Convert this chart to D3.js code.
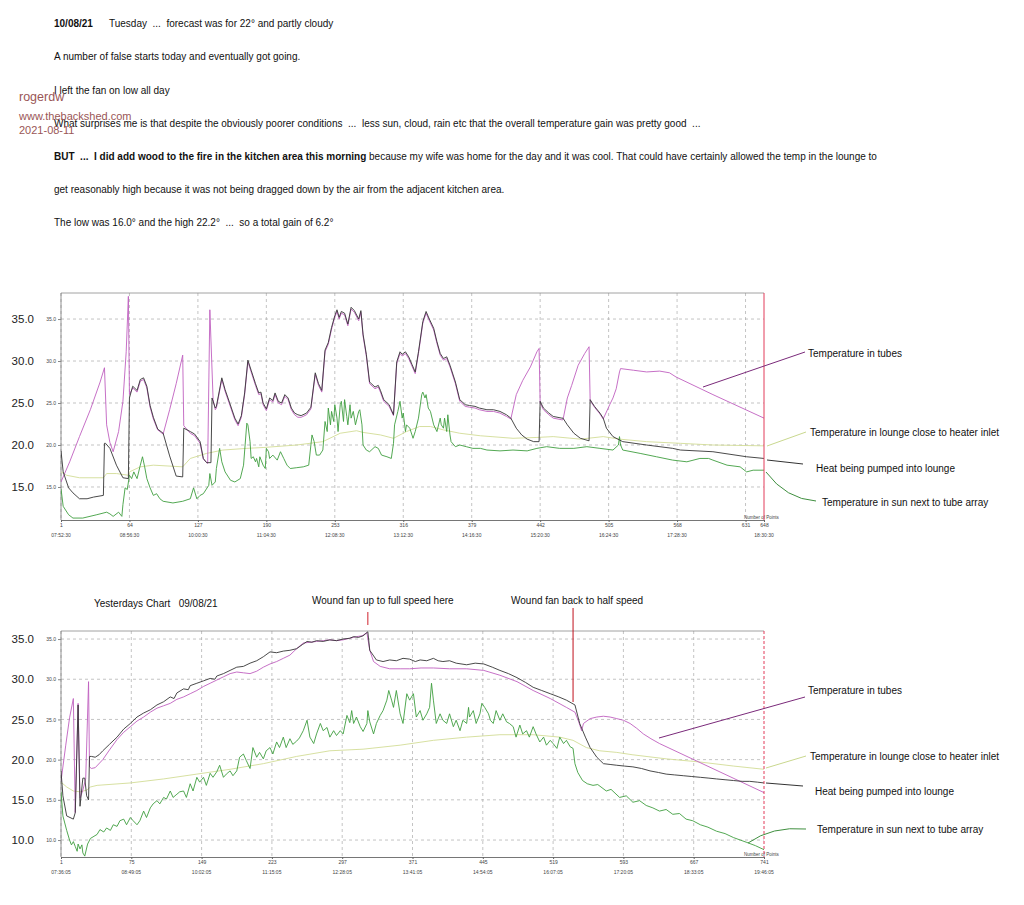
<!DOCTYPE html>
<html><head><meta charset="utf-8">
<script src="https://cdn.jsdelivr.net/npm/d3@7"></script>
<style>
body{margin:0;background:#fff;}
svg{display:block;font-family:"Liberation Sans",Arial,Helvetica,sans-serif;}
text{white-space:pre;}
</style>
</head><body>
<svg id="c" width="1024" height="905"></svg>
<script>
// ---------- TEXT ----------
const notesBold = ["10/08/21", "", "", "", "BUT  ...  I did add wood to the fire in the kitchen area this morning", "", ""];
const notesText = [
  "Tuesday  ...  forecast was for 22° and partly cloudy",
  "A number of false starts today and eventually got going.",
  "I left the fan on low all day",
  "What surprises me is that despite the obviously poorer conditions  ...  less sun, cloud, rain etc that the overall temperature gain was pretty good  ...",
  " because my wife was home for the day and it was cool. That could have certainly allowed the temp in the lounge to",
  "get reasonably high because it was not being dragged down by the air from the adjacent kitchen area.",
  "The low was 16.0° and the high 22.2°  ...  so a total gain of 6.2°"
];
const watermark = ["rogerdw", "www.thebackshed.com", "2021-08-11"];
const legendLabels = ["Temperature in tubes", "Temperature in lounge close to heater inlet", "Heat being pumped into lounge", "Temperature in sun next to tube array"];
const yesterdayTitle = "Yesterdays Chart   09/08/21";
const fanNotes = ["Wound fan up to full speed here", "Wound fan back to half speed"];
const fanNoteIdx = [324, 540];

// ---------- TOP CHART (10/08/21) ----------
const topXTicks = [1, 64, 127, 190, 253, 316, 379, 442, 505, 568, 631, 648];
const topXTimes = ["07:52:30", "08:56:30", "10:00:30", "11:04:30", "12:08:30", "13:12:30", "14:16:30", "15:20:30", "16:24:30", "17:28:30", "", "18:30:30"];
const topYTicks = [15, 20, 25, 30, 35];

const topTubes = [[1,15.6],[9,18.0],[18,21.0],[28,24.2],[37,27.5],[41,29.2],[43,22.4],[46,20.3],[49,19.2],[54,21.6],[58,25.2],[61,31.1],[63,37.7],[64,26.0],[67,26.8],[71,26.3],[74,27.6],[77,27.8],[80,26.8],[83,24.5],[86,23.1],[90,21.8],[95,21.3],
[101,24.2],[107,27.3],[113,30.7],[114,22.3],[120,21.4],[124,21.1],[129,20.2],[132,18.3],[136,17.8],[138,36.1],[141,25.4],[143,24.2],[144,24.4],[149,27.8],[152,26.4],[156,24.9],[161,23.0],[164,22.3],[167,23.3],[170,26.0],[173,29.9],[176,28.7],[180,27.1],[183,26.0],[185,26.1],[187,24.8],[190,24.1],[193,25.4],[196,25.1],[198,26.0],[201,25.0],[204,24.8],[207,25.8],[210,25.4],[213,24.2],[216,23.6],[219,23.3],[222,23.3],[227,23.6],[231,24.3],[235,28.4],[238,27.1],[241,26.3],[244,31.1],[247,32.0],[250,33.8],[253,35.2],[255,35.9],[257,35.0],[259,35.7],[262,35.5],[265,34.2],[268,36.2],[271,35.8],[275,34.8],[277,35.8],[279,33.0],[282,30.6],[285,27.3],[290,26.7],[293,26.9],[295,26.3],[298,25.2],[303,24.6],[307,23.5],[310,29.7],[313,30.9],[315,30.6],[318,30.9],[321,30.3],[324,29.4],[327,28.5],[330,30.9],[334,34.5],[337,35.7],[340,34.8],[344,33.7],[347,32.1],[350,30.7],[353,30.1],[356,30.3],[359,29.3],[364,27.3],[368,25.2],[373,24.6],[377,24.5],[382,24.4],[386,24.2],[393,24.0],[399,24.0],[405,23.8],[411,23.4],[415,23.1],
[420,26.0],[426,27.7],[433,29.3],[439,31.1],[441,31.5],[442,25.0],[445,24.2],[450,23.6],[454,23.2],[462,23.0],[463,23.0],
[467,25.6],[471,27.1],[477,29.5],[483,30.9],[487,31.7],[488,25.3],[492,24.5],[497,23.7],[500,23.1],
[506,24.8],[509,25.6],[512,26.7],[515,28.7],[516,29.1],[528,28.9],[540,28.7],[552,28.8],[561,28.6],[567,28.1],[601,26.0],[648,23.2]];

const topHeat = [[1,19.3],[3,16.8],[8,14.9],[12,14.3],[18,13.6],[25,13.6],[31,13.8],[40,14.0],[41,20.2],[42,20.2],[46,19.6],[52,17.6],[58,16.1],[63,16.0],[64,25.6],[67,27.0],[71,26.5],[74,27.8],[77,28.0],[80,27.0],[83,24.7],[86,23.3],[90,21.9],[95,21.4],[101,18.7],[107,16.3],[113,16.2],[114,22.0],[120,21.6],[124,21.3],[129,20.4],[132,18.4],[135,17.9],[139,17.9],[140,25.6],[143,24.4],[144,24.6],[149,28.0],[152,26.6],[156,25.1],[161,23.2],[164,22.5],[167,23.5],[170,26.2],[173,30.1],[176,28.9],[180,27.3],[183,26.2],[185,26.3],[187,25.0],[190,24.3],[193,25.6],[196,25.3],[198,26.2],[201,25.2],[204,25.0],[207,26.0],[210,25.6],[213,24.4],[216,23.8],[219,23.6],[222,23.5],[227,23.8],[231,24.5],[235,28.6],[238,27.3],[241,26.5],[244,31.3],[247,32.2],[250,34.0],[253,35.4],[255,36.1],[257,35.2],[259,35.9],[262,35.7],[265,34.4],[268,36.4],[271,36.0],[275,35.0],[277,36.0],[279,33.2],[282,30.8],[285,27.5],[290,26.9],[293,27.1],[295,26.5],[298,25.4],[303,24.8],[307,23.6],[310,29.9],[313,31.1],[315,30.8],[318,31.1],[321,30.5],[324,29.6],[327,28.7],[330,31.1],[334,34.7],[337,35.9],[340,35.0],[344,33.9],[347,32.3],[350,30.9],[353,30.3],[356,30.5],[359,29.5],[364,27.5],[368,25.4],[373,24.8],[377,24.7],[382,24.6],[386,24.4],[393,24.2],[399,24.2],[405,24.0],[411,23.6],[415,23.2],[420,22.0],[425,21.2],[430,20.7],[436,20.4],[441,20.4],[442,25.2],[445,24.4],[450,23.8],[454,23.4],[462,23.2],[463,23.2],[467,22.4],[473,21.4],[479,20.8],[487,20.5],[488,25.4],[492,24.6],[497,23.8],[500,23.2],[503,22.0],[509,21.0],[518,20.4],[540,20.0],[564,19.6],[571,19.4],[601,19.2],[632,18.6],[648,18.4]];

const topLounge = [[1,16.8],[6,16.4],[18,16.1],[40,16.1],[43,16.6],[52,16.6],[63,16.4],[64,16.8],[74,17.4],[86,17.6],[113,17.4],[120,18.4],[135,19.0],[150,19.4],[172,19.6],[187,19.7],[218,20.0],[242,20.4],[258,21.4],[273,21.7],[279,21.5],[295,21.2],[307,20.8],[319,21.6],[331,22.2],[341,22.2],[353,21.8],[368,21.4],[387,21.1],[417,20.8],[439,20.9],[454,21.0],[479,20.7],[500,21.0],[515,20.7],[540,20.4],[571,20.2],[601,20.0],[648,19.9]];

const topSun = [[1,14.8],[3,12.7],[8,11.7],[12,11.3],[21,11.3],[34,11.7],[43,12.0],[46,11.8],[49,11.5],[54,12.0],[57,11.5],[58,12.9],[60,14.9],[62,14.7],[64,16.4],[66,16.0],[68,16.8],[71,16.0],[74,17.6],[76,18.6],[78,17.4],[80,16.0],[83,14.9],[86,14.0],[89,14.2],[92,13.6],[95,13.3],[104,13.1],[113,13.3],[120,13.6],[123,14.9],[126,13.6],[129,14.0],[132,14.2],[137,15.2],[138,16.6],[140,15.2],[143,15.6],[144,17.2],[147,19.6],[149,18.0],[152,16.8],[157,15.8],[161,15.6],[166,16.0],[169,17.6],[172,22.6],[173,22.4],[175,20.4],[176,18.4],[178,18.6],[180,18.0],[181,18.4],[183,17.4],[184,18.6],[187,17.6],[189,17.2],[190,19.6],[192,19.2],[193,18.4],[196,18.8],[200,18.2],[203,19.2],[206,18.4],[209,17.6],[212,17.2],[218,17.3],[224,17.4],[229,17.6],[232,21.2],[234,20.4],[236,18.8],[239,18.8],[242,19.4],[244,22.8],[246,21.6],[247,24.4],[249,22.4],[250,24.0],[252,22.8],[253,24.8],[255,23.2],[256,21.6],[258,24.8],[259,25.2],[261,22.8],[262,25.4],[264,23.4],[265,22.4],[267,24.8],[268,23.2],[270,24.0],[272,22.4],[275,24.0],[276,24.2],[278,22.4],[279,20.0],[282,19.4],[285,19.2],[290,19.8],[293,19.6],[296,18.8],[301,18.6],[305,18.4],[307,20.2],[308,22.4],[311,24.0],[313,25.2],[315,23.2],[316,23.8],[318,21.6],[319,22.4],[322,22.0],[325,20.8],[327,21.6],[330,23.2],[333,26.0],[334,26.3],[336,25.6],[337,26.0],[339,24.4],[341,24.0],[344,22.4],[347,21.6],[350,23.2],[351,22.4],[353,22.0],[354,23.2],[356,21.6],[357,23.6],[359,21.2],[360,20.4],[364,19.8],[368,20.0],[374,19.8],[380,19.6],[387,19.6],[393,19.4],[405,19.3],[417,19.4],[430,19.3],[439,19.6],[448,19.8],[460,19.6],[473,19.6],[485,19.8],[497,19.6],[509,19.4],[514,20.0],[515,21.0],[516,20.0],[518,19.4],[534,19.0],[549,18.6],[564,18.2],[577,18.0],[589,18.4],[597,18.4],[601,18.2],[614,17.6],[626,17.4],[632,16.8],[638,17.0],[648,17.0]];

// ---------- BOTTOM CHART (09/08/21) ----------
const botXTicks = [1, 75, 149, 223, 297, 371, 445, 519, 593, 667, 741];
const botXTimes = ["07:36:05", "08:49:05", "10:02:05", "11:15:05", "12:28:05", "13:41:05", "14:54:05", "16:07:05", "17:20:05", "18:33:05", "19:46:05"];
const botYTicks = [10, 15, 20, 25, 30, 35];

const botTubes = [[1,17.3],[6,21.8],[10,25.2],[14,27.6],[16,13.4],[19,27.0],[21,15.2],[24,16.2],[27,17.6],[30,29.7],[31,19.1],[33,18.9],[37,19.0],[45,20.0],[52,21.2],[60,22.5],[67,23.4],[74,24.1],[81,24.8],[88,25.3],[95,25.9],[102,26.4],[109,26.7],[116,27.0],[123,27.5],[130,27.8],[137,28.2],[144,28.6],[151,29.1],[158,29.5],[165,29.9],[172,30.3],[179,30.7],[186,30.9],[193,30.8],[200,30.7],[207,31.0],[214,31.5],[221,31.9],[228,32.2],[235,32.6],[242,33.0],[249,33.8],[256,34.5],[263,34.6],[270,34.7],[277,34.8],[284,34.9],[291,34.8],[298,34.9],[305,35.1],[312,35.3],[318,35.4],[323,35.8],[326,33.6],[330,32.2],[337,31.6],[347,31.3],[358,31.3],[368,31.3],[380,31.4],[393,31.4],[410,31.3],[428,31.3],[446,31.1],[463,30.5],[481,29.7],[498,28.6],[516,27.6],[533,26.5],[542,25.9],[546,24.7],[549,23.6],[551,24.5],[558,25.1],[565,25.3],[572,25.4],[579,25.3],[586,25.1],[593,24.9],[600,24.5],[607,23.9],[614,23.2],[622,22.6],[631,22.0],[741,15.9]];

const botHeat = [[1,18.6],[3,15.5],[7,13.0],[14,12.6],[16,13.4],[19,26.8],[21,14.2],[24,17.7],[26,17.7],[28,15.5],[30,15.0],[31,20.4],[33,20.4],[37,20.3],[41,20.6],[45,21.1],[52,21.9],[60,22.8],[67,23.8],[74,24.5],[81,25.3],[88,25.8],[95,26.2],[102,26.8],[109,27.2],[116,27.8],[120,27.6],[123,28.3],[130,28.8],[135,28.7],[137,29.2],[144,29.5],[151,29.8],[158,30.1],[163,30.0],[165,30.4],[172,30.7],[179,31.1],[186,31.5],[193,31.6],[200,32.0],[207,32.3],[214,32.8],[221,33.4],[228,33.3],[235,33.5],[242,33.6],[249,33.8],[255,34.3],[260,34.7],[265,34.6],[270,34.8],[277,34.7],[284,34.9],[291,34.8],[298,35.0],[305,35.1],[309,35.3],[314,35.2],[319,35.4],[324,35.9],[326,33.6],[333,32.4],[340,32.2],[347,32.4],[354,32.3],[361,32.6],[368,32.5],[374,32.2],[379,32.4],[386,32.3],[393,32.6],[398,32.3],[403,32.2],[410,32.3],[417,32.0],[428,31.8],[437,32.0],[446,31.9],[455,31.5],[463,31.1],[472,30.7],[481,30.2],[490,29.6],[498,29.0],[507,28.6],[516,28.2],[525,27.8],[533,27.4],[542,26.8],[547,24.5],[553,22.8],[558,21.5],[565,20.3],[572,19.5],[579,19.4],[586,19.3],[594,19.2],[603,19.1],[612,18.9],[621,18.6],[630,18.4],[638,18.2],[647,18.1],[656,18.0],[665,17.9],[674,17.8],[683,17.7],[691,17.6],[700,17.5],[709,17.4],[718,17.3],[726,17.3],[734,17.2],[741,17.1]];

const botLounge = [[1,17.2],[7,16.6],[14,16.1],[21,16.0],[28,16.2],[32,16.6],[39,16.8],[74,17.1],[109,17.6],[144,18.2],[179,18.8],[214,19.5],[249,20.4],[284,21.1],[319,21.3],[358,21.8],[393,22.4],[428,22.8],[463,23.1],[498,23.1],[526,22.8],[540,22.4],[554,21.5],[568,21.1],[586,20.9],[603,20.6],[638,20.1],[674,19.7],[709,19.2],[741,18.8]];

const botSun = [[1,16.0],[3,13.0],[7,11.2],[10,10.0],[12,9.4],[14,9.8],[16,9.2],[18,8.6],[19,9.5],[21,8.9],[23,9.4],[24,8.4],[26,8.0],[29,9.5],[32,10.2],[39,10.7],[42,11.3],[46,11.0],[49,11.5],[53,11.2],[56,11.9],[60,11.7],[63,12.4],[67,12.6],[70,11.9],[74,12.8],[77,12.4],[81,11.9],[84,12.4],[88,13.6],[91,12.8],[95,14.0],[98,14.5],[102,14.9],[105,14.5],[109,15.3],[112,15.1],[116,16.1],[119,15.3],[123,15.7],[126,16.0],[130,16.1],[133,15.3],[137,17.0],[140,16.1],[144,17.8],[147,17.2],[151,17.8],[154,16.8],[158,18.3],[161,17.8],[165,18.5],[168,19.3],[172,17.8],[175,18.2],[179,18.6],[182,18.0],[186,18.6],[189,20.3],[193,20.7],[196,19.9],[200,18.9],[203,21.5],[207,20.3],[210,20.9],[214,20.1],[217,21.1],[221,21.5],[224,20.7],[228,22.2],[231,21.5],[235,22.8],[238,21.5],[242,22.6],[245,21.9],[249,22.3],[252,22.7],[256,23.6],[260,24.9],[263,22.8],[267,22.0],[270,23.2],[274,24.5],[277,23.6],[281,24.0],[284,22.8],[288,23.6],[291,23.0],[295,23.6],[298,23.2],[302,25.5],[305,24.6],[307,26.1],[309,24.5],[312,25.3],[316,24.1],[319,23.5],[323,24.5],[324,26.1],[326,24.7],[330,23.2],[333,24.5],[337,25.5],[340,26.1],[344,27.4],[346,28.6],[349,27.4],[351,26.5],[354,28.6],[358,25.7],[361,24.5],[365,28.2],[368,27.4],[372,28.2],[375,25.3],[379,26.1],[382,24.9],[386,25.7],[389,26.5],[391,29.5],[393,27.4],[396,24.5],[400,25.7],[403,24.9],[407,24.5],[410,25.7],[414,24.1],[417,24.9],[421,23.6],[424,24.9],[428,24.5],[430,26.5],[431,25.3],[435,26.1],[438,24.5],[442,25.7],[444,27.0],[447,26.5],[451,25.7],[453,24.9],[456,24.5],[459,26.1],[463,24.9],[466,25.7],[470,24.7],[473,24.5],[477,24.1],[480,22.8],[484,24.3],[487,23.2],[491,23.6],[494,22.8],[498,24.1],[501,23.2],[505,22.2],[509,22.8],[512,21.8],[516,22.4],[519,22.0],[523,21.4],[526,22.8],[530,22.0],[533,22.4],[537,21.6],[540,21.4],[542,19.5],[545,18.4],[550,17.4],[555,17.0],[561,16.8],[566,16.9],[575,16.1],[580,16.3],[589,15.3],[596,15.5],[603,14.7],[610,14.9],[617,14.3],[624,14.0],[631,13.6],[638,13.8],[645,13.2],[652,13.3],[659,12.6],[666,12.4],[674,11.9],[682,11.6],[691,11.1],[700,10.8],[709,10.3],[716,10.0],[723,9.7],[732,9.3],[741,8.8]];

// ---------- STYLE ----------
const COL = {tubes:"#c060c0", heat:"#353535", lounge:"#d2dc96", sun:"#3f9e3f", grid:"#ababab", frame:"#8a8a8a", red:"#e23c5a"};
const FONT = '"Liberation Sans",Arial,Helvetica,sans-serif';

const svg = d3.select("#c");

// ---------- NOTES ----------
const lineY = [27, 60, 93.5, 127, 160, 193, 226];
notesText.forEach((t, i) => {
  const tx = svg.append("text").attr("x", 54).attr("y", lineY[i]).attr("font-size", 10).attr("fill", "#111");
  if (i === 0) {
    tx.append("tspan").attr("font-weight", "bold").text(notesBold[0]);
    svg.append("text").attr("x", 109).attr("y", lineY[i]).attr("font-size", 10).attr("fill", "#111").text(t);
  } else if (notesBold[i]) {
    tx.append("tspan").attr("font-weight", "bold").text(notesBold[i]);
    tx.append("tspan").text(t);
  } else {
    tx.text(t);
  }
});

// watermark
svg.append("text").attr("x", 19).attr("y", 101).attr("font-size", 12.5).attr("fill", "#9a5656").text(watermark[0]);
svg.append("text").attr("x", 19).attr("y", 120).attr("font-size", 11).attr("fill", "#9a5656").text(watermark[1]);
svg.append("text").attr("x", 19).attr("y", 134).attr("font-size", 11).attr("fill", "#9a5656").text(watermark[2]);

// ---------- CHART ----------
function drawChart(c) {
  const L = 61, R = 764;
  const x = d3.scaleLinear().domain([1, c.n]).range([L, R]);
  const y = d3.scaleLinear().domain(c.yDomain).range([c.bottom, c.top]);
  const g = svg.append("g");
  const cid = "clip" + c.id;
  svg.append("defs").append("clipPath").attr("id", cid)
    .append("rect").attr("x", L).attr("y", c.top).attr("width", R - L).attr("height", c.bottom - c.top);

  // grid
  g.selectAll(null).data(c.yTicks).join("line")
    .attr("x1", L).attr("x2", R).attr("y1", d => y(d)).attr("y2", d => y(d))
    .attr("stroke", COL.grid).attr("stroke-width", 0.7).attr("stroke-dasharray", "3,3");
  g.selectAll(null).data(c.xTicks.slice(0, -1)).join("line")
    .attr("x1", d => x(d)).attr("x2", d => x(d)).attr("y1", c.top).attr("y2", c.bottom)
    .attr("stroke", COL.grid).attr("stroke-width", 0.7).attr("stroke-dasharray", "3,3");

  // frame
  g.append("line").attr("x1", L).attr("x2", R).attr("y1", c.top).attr("y2", c.top).attr("stroke", COL.frame).attr("stroke-width", 0.8);
  g.append("line").attr("x1", L).attr("x2", L).attr("y1", c.top).attr("y2", c.bottom).attr("stroke", "#777").attr("stroke-width", 0.8);

  // x axis
  const xa = g.append("g").attr("transform", `translate(0,${c.bottom})`)
    .call(d3.axisBottom(x).tickValues(c.xTicks).tickFormat(d3.format("d")).tickSize(2).tickPadding(1.5));
  xa.select(".domain").attr("stroke", "#666").attr("stroke-width", 0.9);
  xa.selectAll(".tick line").attr("stroke", "#666");
  xa.selectAll(".tick text").attr("font-size", 5).attr("font-family", FONT).attr("fill", "#444");
  g.selectAll(null).data(c.xTicks).join("text")
    .attr("x", d => x(d)).attr("y", c.bottom + 17).attr("text-anchor", "middle")
    .attr("font-size", 5).attr("fill", "#444").text((d, i) => c.xTimes[i]);
  g.append("text").attr("x", R - 20).attr("y", c.bottom - 1).attr("font-size", 4.5).attr("fill", "#444").text("Number of Points");

  // small y labels
  const ys = g.append("g").attr("transform", `translate(${L},0)`)
    .call(d3.axisLeft(y).tickValues(c.yTicks).tickFormat(d3.format(".1f")).tickSize(3).tickPadding(2));
  ys.select(".domain").remove();
  ys.selectAll(".tick line").attr("stroke", "#888");
  ys.selectAll(".tick text").attr("font-size", 5).attr("font-family", FONT).attr("fill", "#444");
  // large y labels
  const yb = g.append("g").attr("transform", `translate(${L},0)`)
    .call(d3.axisLeft(y).tickValues(c.yTicks).tickFormat(d3.format(".1f")).tickSize(0).tickPadding(27));
  yb.select(".domain").remove();
  yb.selectAll(".tick text").attr("font-size", 11.5).attr("font-family", FONT).attr("fill", "#222");

  // lines
  const line = d3.line().x(d => x(d[0])).y(d => y(d[1]));
  const lg = g.append("g").attr("clip-path", `url(#${cid})`);
  [[c.lounge, COL.lounge], [c.sun, COL.sun], [c.tubes, COL.tubes], [c.heat, COL.heat]].forEach(([data, col]) => {
    lg.append("path").datum(data).attr("d", line).attr("fill", "none").attr("stroke", col)
      .attr("stroke-width", 0.9).attr("stroke-linejoin", "round");
  });

  // right red edge
  g.append("line").attr("x1", R).attr("x2", R).attr("y1", c.top).attr("y2", c.bottom)
    .attr("stroke", COL.red).attr("stroke-width", 1).attr("stroke-dasharray", c.redDash);

  // legend leader lines and labels
  const leaders = c.leaders;
  const cols = ["#7a2a7a", "#c9d88e", "#333", "#3f8f3f"];
  leaders.forEach((p, i) => {
    svg.append("path").attr("d", p).attr("fill", "none").attr("stroke", cols[i]).attr("stroke-width", 1);
  });
  legendLabels.forEach((t, i) => {
    svg.append("text").attr("x", c.labelX[i]).attr("y", c.labelY[i]).attr("font-size", 10).attr("fill", "#111").text(t);
  });
  return {x, y};
}

drawChart({
  id: "top", n: 648, top: 293, bottom: 520, yDomain: [11.07, 38.1],
  xTicks: topXTicks, xTimes: topXTimes, yTicks: topYTicks,
  tubes: topTubes, heat: topHeat, lounge: topLounge, sun: topSun, redDash: null,
  leaders: ["M703,387L805,352", "M767,446L806,432", "M767,460L803,464", "M766,472Q786,499 816,501"],
  labelX: [808, 810, 816, 822], labelY: [357, 436, 472, 506]
});

const bot = drawChart({
  id: "bot", n: 741, top: 631, bottom: 857, yDomain: [7.89, 36.0],
  xTicks: botXTicks, xTimes: botXTimes, yTicks: botYTicks,
  tubes: botTubes, heat: botHeat, lounge: botLounge, sun: botSun, redDash: "3,2",
  leaders: ["M659,738L805,697", "M766,768L806,756", "M766,783L803,786", "M748,843Q772,826 806,829"],
  labelX: [808, 810, 815, 817], labelY: [694, 760, 795, 833]
});

// yesterday header and fan notes
svg.append("text").attr("x", 94).attr("y", 607).attr("font-size", 10).attr("fill", "#111").text(yesterdayTitle);
svg.append("text").attr("x", 312).attr("y", 604).attr("font-size", 10).attr("fill", "#111").text(fanNotes[0]);
svg.append("text").attr("x", 511).attr("y", 604).attr("font-size", 10).attr("fill", "#111").text(fanNotes[1]);
svg.append("line").attr("x1", bot.x(fanNoteIdx[0])).attr("x2", bot.x(fanNoteIdx[0])).attr("y1", 612).attr("y2", 625)
  .attr("stroke", "#d0202c").attr("stroke-width", 1);
svg.append("line").attr("x1", bot.x(fanNoteIdx[1])).attr("x2", bot.x(fanNoteIdx[1])).attr("y1", 608).attr("y2", 702)
  .attr("stroke", "#c0101c").attr("stroke-width", 1);
</script>
</body></html>
